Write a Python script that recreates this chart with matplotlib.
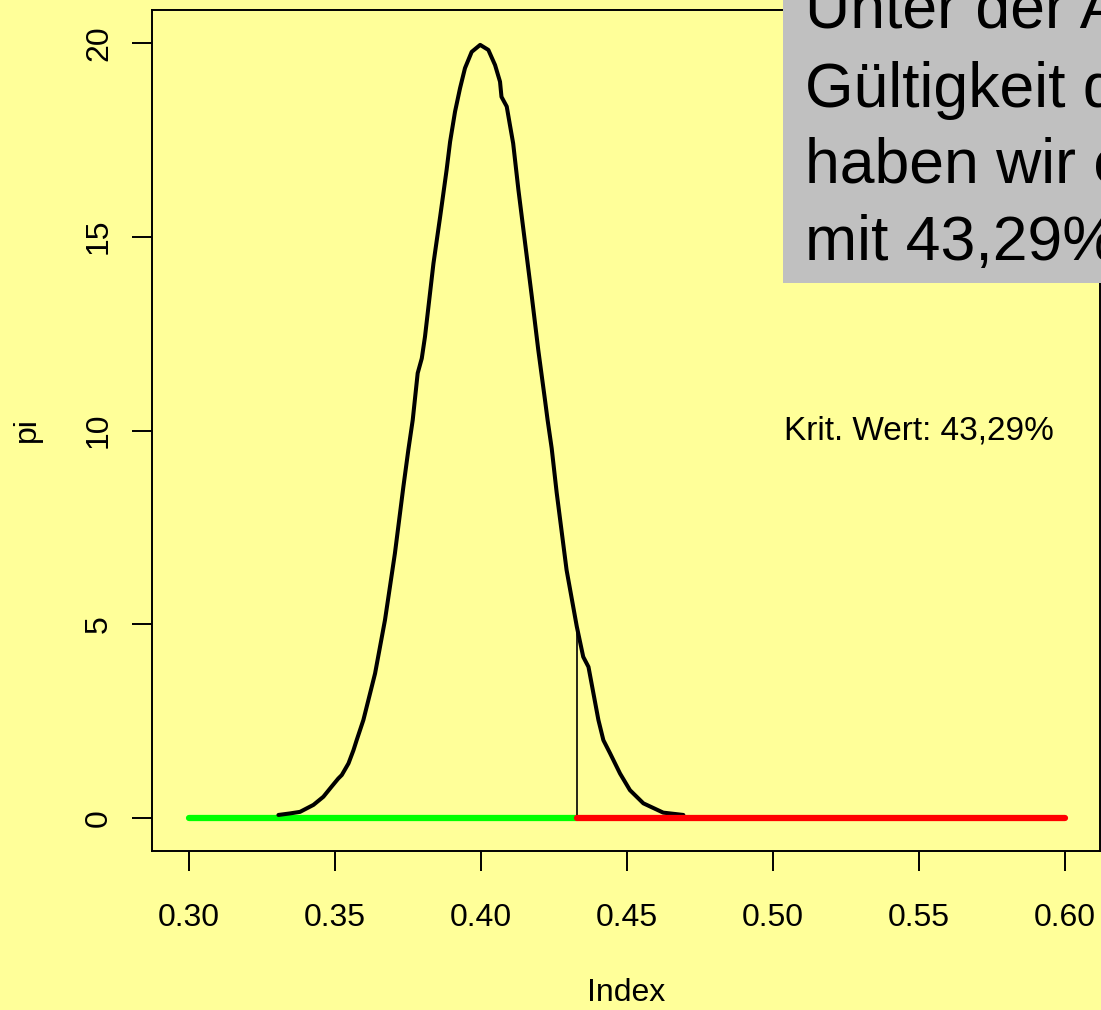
import matplotlib
matplotlib.use("Agg")
import matplotlib.pyplot as plt
from matplotlib.patches import Rectangle

plt.rcParams['font.family'] = ['Liberation Sans', 'DejaVu Sans']

# curve values
index = [0.3306, 0.3346, 0.3380, 0.3426, 0.3460, 0.3488, 0.3511, 0.3523, 0.3546,
         0.3563, 0.3574, 0.3597, 0.3637, 0.3671, 0.3705, 0.3734, 0.3751, 0.3766,
         0.3783, 0.3797, 0.3808, 0.3837, 0.3860, 0.3882, 0.3894, 0.3911, 0.3928,
         0.3945, 0.3968, 0.3997, 0.4025, 0.4048, 0.4065, 0.4070, 0.4088, 0.4099,
         0.4110, 0.4128, 0.4151, 0.4174, 0.4196, 0.4219, 0.4228, 0.4242, 0.4259,
         0.4293, 0.4328, 0.4350, 0.4368, 0.4402, 0.4419, 0.4442, 0.4476, 0.4510,
         0.4556, 0.4624, 0.4693]
pi = [0.08, 0.12, 0.16, 0.34, 0.55, 0.81, 1.02, 1.11, 1.41,
      1.75, 2.01, 2.53, 3.73, 5.11, 6.83, 8.55, 9.50, 10.27,
      11.48, 11.86, 12.42, 14.31, 15.52, 16.72, 17.45, 18.23, 18.83,
      19.35, 19.77, 19.95, 19.82, 19.43, 19.00, 18.61, 18.36, 17.88,
      17.41, 16.21, 14.83, 13.45, 12.08, 10.79, 10.27, 9.54, 8.40,
      6.40, 4.94, 4.16, 3.90, 2.53, 2.01, 1.67, 1.15, 0.72,
      0.38, 0.14, 0.08]

crit_x = 0.4329
crit_y = 4.94
range_lo, range_hi = 0.30, 0.60
crit_label = "Krit. Wert: 43,29%"
box_lines = ["Unter der Annahme der", "Gültigkeit der H0", "haben wir einen", "mit 43,29%"]

x_ticks = [0.30, 0.35, 0.40, 0.45, 0.50, 0.55, 0.60]
x_ticklabels = ["0.30", "0.35", "0.40", "0.45", "0.50", "0.55", "0.60"]
y_ticks = [0, 5, 10, 15, 20]

bg = "#FFFF99"
W, H = 1101, 1010

fig = plt.figure(figsize=(W / 100, H / 100), dpi=100, facecolor=bg)
ax = fig.add_axes([152 / W, 1 - 851 / H, (1100 - 152) / W, (851 - 10) / H])
ax.set_facecolor(bg)

ax.plot(index, pi, color="black", lw=2.9, solid_joinstyle="round", solid_capstyle="round", zorder=3)
ax.plot([crit_x, crit_x], [0, crit_y], color="black", lw=1.2, zorder=3)
ax.plot([range_lo, crit_x], [0, 0], color="#00FF00", lw=4.5, solid_capstyle="round", zorder=2)
ax.plot([crit_x, range_hi], [0, 0], color="#FF0000", lw=4.5, solid_capstyle="round", zorder=4)

ax.text(0.5038, 10, crit_label, ha="left", va="center", fontsize=24)

ax.set_xlim(0.2873, 0.612)
ax.set_ylim(-0.85, 20.85)
ax.set_xticks(x_ticks, x_ticklabels)
ax.set_yticks(y_ticks, [str(v) for v in y_ticks])
for lab in ax.get_yticklabels():
    lab.set_rotation(90)
    lab.set_va("center")
ax.tick_params(axis="both", direction="out", length=14.4, width=1.4, labelsize=23)
ax.tick_params(axis="x", pad=23)
ax.tick_params(axis="y", pad=13)
for s in ax.spines.values():
    s.set_linewidth(1.4)

fig.text(626 / W, 1 - 993 / H, "Index", ha="center", va="center", fontsize=23)
fig.text(27 / W, 1 - 430 / H, "pi", ha="center", va="center", rotation=90, fontsize=23)

# grey note box, cut by the right edge
fig.patches.append(Rectangle((783 / W, 1 - 283 / H), 1.0, 1.0, transform=fig.transFigure,
                             facecolor="#C0C0C0", edgecolor="none", zorder=10))
for line, base in zip(box_lines, [28, 107, 183, 260]):
    fig.text(805 / W, 1 - base / H, line, ha="left", va="baseline", fontsize=45, zorder=11)

fig.savefig("out.png", dpi=100, facecolor=bg)
